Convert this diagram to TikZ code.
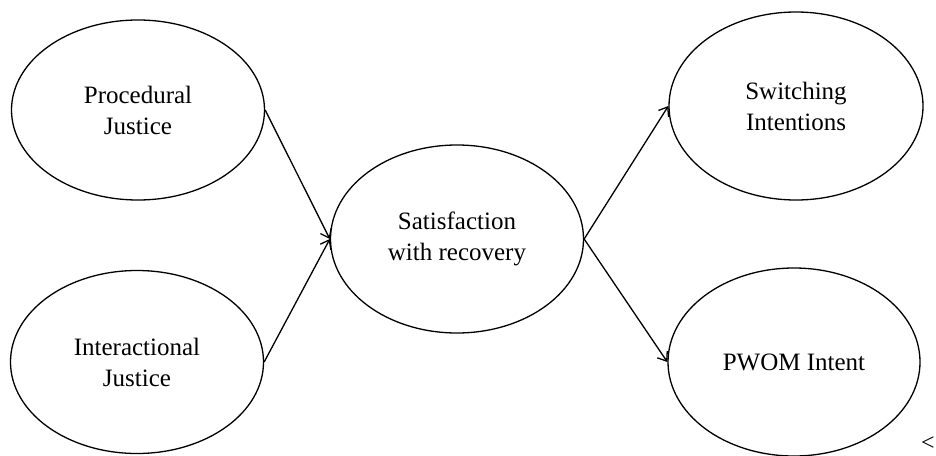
\documentclass[tikz,border=0pt]{standalone}
\usepackage{fontspec}
\setmainfont{Liberation Serif}
\usetikzlibrary{shapes.geometric,arrows.meta}
\tikzset{
  construct/.style={draw=black, line width=1.3pt, ellipse, inner sep=0pt,
    minimum width=253pt, minimum height=184pt, align=center,
    font=\fontsize{25}{31}\selectfont},
  link/.style={draw=black, line width=1.3pt, -{Straight Barb[length=8pt,width=12pt,line width=1.3pt]}}
}
\begin{document}
\begin{tikzpicture}[x=1pt,y=-1pt]
\useasboundingbox[fill=white] (0,0) rectangle (936,455);
\node[construct, minimum height=180pt] (proc) at (138,110) {Procedural\\Justice};
\node[construct, minimum height=183pt] (inter) at (137,362) {Interactional\\Justice};
\node[construct, minimum height=188pt] (sat) at (457,239) {Satisfaction\\with recovery};
\node[construct, minimum width=254pt, minimum height=188pt] (sw) at (796,106) {Switching\\Intentions};
\node[construct, minimum width=252pt, minimum height=188pt] (pwom) at (794,362) {PWOM Intent};
\node[font=\fontsize{24}{28}\selectfont, inner sep=0pt, anchor=west] (lt) at (921,444) {<};
\draw[link] (proc.east) -- (sat.west);
\draw[link] (inter.east) -- (sat.west);
\draw[link] (sat.east) -- (sw.west);
\draw[link] (sat.east) -- (pwom.west);
\end{tikzpicture}
\end{document}
